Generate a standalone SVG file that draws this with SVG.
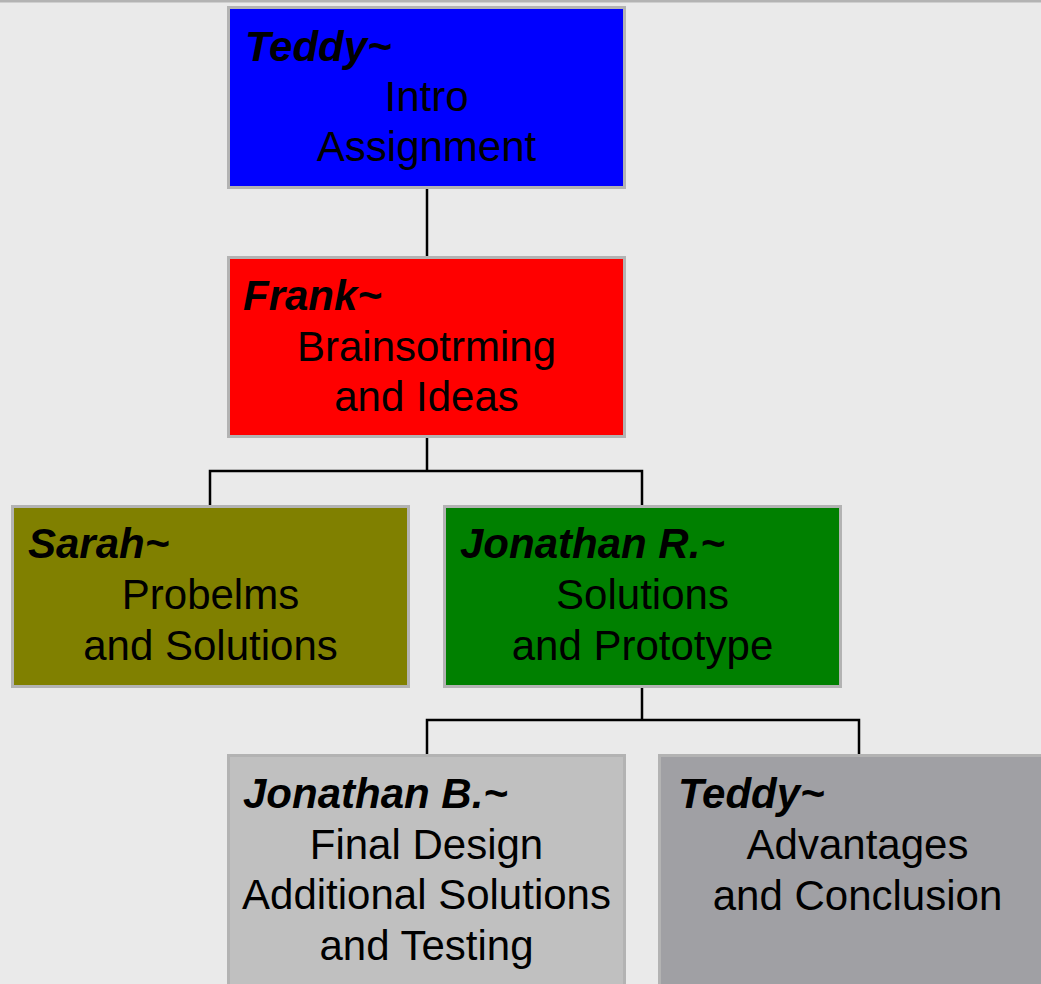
<svg xmlns="http://www.w3.org/2000/svg" width="1041" height="984" viewBox="0 0 1041 984">
<style>
.box{stroke:#b3b3b3;stroke-width:3}
.name{font-family:"Liberation Sans",Arial,sans-serif;font-size:42px;font-weight:bold;font-style:italic;fill:#000}
.body{font-family:"Liberation Sans",Arial,sans-serif;font-size:42px;fill:#000;text-anchor:middle}
.conn{fill:none;stroke:#000;stroke-width:2.5}
</style>
<rect x="0" y="0" width="1041" height="984" fill="#eaeaea"/>
<rect x="0" y="0" width="1041" height="2.5" fill="#b3b3b3"/>
<g id="connectors">
<path class="conn" d="M427,189 V256"/>
<path class="conn" d="M427,438 V471 M210,505 V471 H642 V505"/>
<path class="conn" d="M642,688 V720 M427,754 V720 H859 V754"/>
</g>
<g id="node-teddy-intro">
<rect class="box" x="228.5" y="7.5" width="396" height="180" fill="#0000ff"/>
<text class="name" x="245" y="61">Teddy~</text>
<text class="body" x="426.5" y="111">Intro</text>
<text class="body" x="426.5" y="161">Assignment</text>
</g>
<g id="node-frank">
<rect class="box" x="228.5" y="257.5" width="396" height="179" fill="#ff0000"/>
<text class="name" x="243" y="310">Frank~</text>
<text class="body" x="426.5" y="361">Brainsotrming</text>
<text class="body" x="426.5" y="411">and Ideas</text>
</g>
<g id="node-sarah">
<rect class="box" x="12.5" y="506.5" width="396" height="180" fill="#808000"/>
<text class="name" x="28" y="558">Sarah~</text>
<text class="body" x="210.5" y="609">Probelms</text>
<text class="body" x="210.5" y="660">and Solutions</text>
</g>
<g id="node-jonathan-r">
<rect class="box" x="444.5" y="506.5" width="396" height="180" fill="#008000"/>
<text class="name" x="460" y="558">Jonathan R.~</text>
<text class="body" x="642.5" y="609">Solutions</text>
<text class="body" x="642.5" y="660">and Prototype</text>
</g>
<g id="node-jonathan-b">
<rect class="box" x="228.5" y="755.5" width="396" height="240" fill="#c0c0c0"/>
<text class="name" x="243" y="808">Jonathan B.~</text>
<text class="body" x="426.5" y="859">Final Design</text>
<text class="body" x="426.5" y="909">Additional Solutions</text>
<text class="body" x="426.5" y="960">and Testing</text>
</g>
<g id="node-teddy-advantages">
<rect class="box" x="659.5" y="755.5" width="396" height="240" fill="#a0a0a4"/>
<text class="name" x="678" y="808">Teddy~</text>
<text class="body" x="857.5" y="859">Advantages</text>
<text class="body" x="857.5" y="910">and Conclusion</text>
</g>
</svg>
